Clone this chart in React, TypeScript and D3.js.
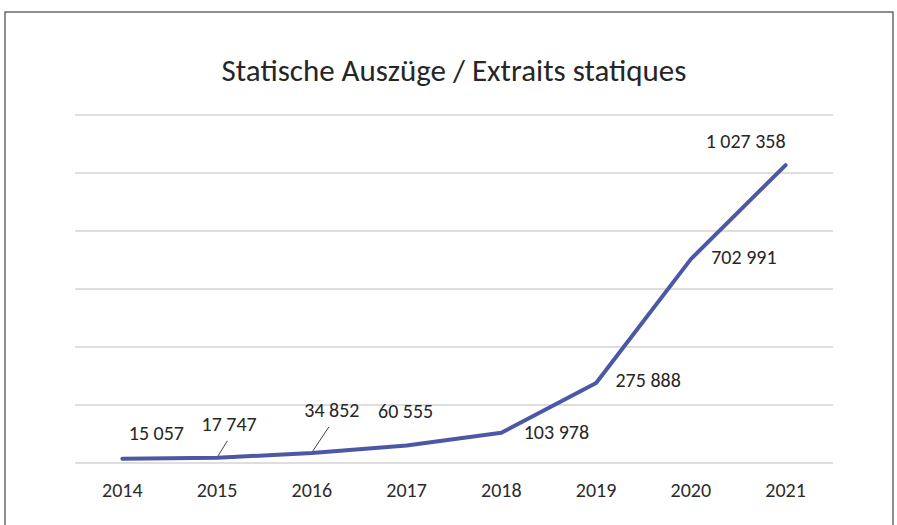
import * as d3 from "d3";

const years = ["2014", "2015", "2016", "2017", "2018", "2019", "2020", "2021"];
const counts = [15057, 17747, 34852, 60555, 103978, 275888, 702991, 1027358];
const yTicks = [0, 200000, 400000, 600000, 800000, 1000000, 1200000];

// label placement around each point (dx, dy), and whether a leader line is drawn
const labelOffsets: [number, number, boolean][] = [
  [34, -23, false],
  [12, -32, true],
  [20, -41, true],
  [-1, -32, false],
  [55, 1, false],
  [52, -1, false],
  [53, 0, false],
  [-40, -22, false],
];

const W = 897;
const H = 525;
const font = "Carlito, 'Open Sans', 'Noto Sans', sans-serif";
const fmt = (v: number) => d3.format(",")(v).replace(/,/g, " ");

export default function App() {
  const x = d3.scaleBand().domain(years).range([75, 833]);
  const y = d3.scaleLinear().domain([0, 1200000]).range([463, 115]);
  const cx = (yr: string) => (x(yr) ?? 0) + x.bandwidth() / 2;

  const line = d3
    .line<number>()
    .x((_, i) => cx(years[i]))
    .y((d) => y(d));

  return (
    <svg
      width={W}
      height={H}
      style={{ position: "absolute", left: 0, top: 0, background: "#fff" }}
    >
      <rect x={5} y={12} width={888} height={530} fill="none" stroke="#444" strokeWidth={1.2} />
      <text
        x={454}
        y={81}
        textAnchor="middle"
        fontFamily={font}
        fontSize={31}
        fill="#262626"
      >
        Statische Auszüge / Extraits statiques
      </text>

      {yTicks.map((t) => (
        <line key={t} x1={75} x2={833} y1={y(t)} y2={y(t)} stroke="#bdbdbd" strokeWidth={1.2} />
      ))}

      {years.map((yr) => (
        <text
          key={yr}
          x={cx(yr)}
          y={497}
          textAnchor="middle"
          fontFamily={font}
          fontSize={20}
          fill="#2b2b2b"
        >
          {yr}
        </text>
      ))}

      <path
        d={line(counts) ?? ""}
        fill="none"
        stroke="#4a58a6"
        strokeWidth={4}
        strokeLinejoin="round"
        strokeLinecap="round"
      />

      {counts.map((v, i) => {
        const px = cx(years[i]);
        const py = y(v);
        const [dx, dy, leader] = labelOffsets[i];
        return (
          <g key={i}>
            {leader && (
              <line
                x1={px + 1}
                y1={py - 2}
                x2={px + dx * 0.85}
                y2={py + dy + 15}
                stroke="#444"
                strokeWidth={1}
              />
            )}
            <text
              x={px + dx}
              y={py + dy}
              textAnchor="middle"
              dominantBaseline="middle"
              fontFamily={font}
              fontSize={20}
              fill="#262626"
            >
              {fmt(v)}
            </text>
          </g>
        );
      })}
    </svg>
  );
}
